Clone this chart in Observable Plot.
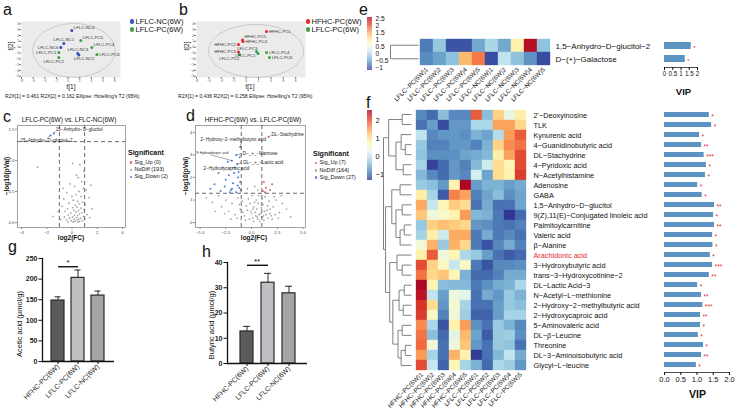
<!DOCTYPE html>
<html><head><meta charset="utf-8">
<script src="https://cdn.jsdelivr.net/npm/d3@7"></script>
<script src="https://cdn.jsdelivr.net/npm/@observablehq/plot@0.6"></script>
<style>
body{margin:0;background:#fff;}
#root{position:relative;width:740px;height:414px;overflow:hidden;background:#fff;font-family:'Liberation Sans',Arial,Helvetica,sans-serif;color:#111;}
.t{position:absolute;white-space:nowrap;line-height:1;}
.d{position:absolute;border-radius:50%;}
</style></head><body><div id="root"></div>
<script>
// ================= DATA =================
// a: PCA LFLC-NC vs LFLC-PC
const pcaA_names = ["LFLC-NC4","LFLC-NC1","LFLC-NC6","LFLC-PC5","LFLC-PC4","LFLC-NC3","LFLC-NC2","LFLC-PC6","LFLC-PC1","LFLC-PC2"];
const pcaA_t1 = [0.64,-0.73,-1.25,2.19,4.08,1.67,1.85,4.94,-1.59,-1.59];
const pcaA_t2 = [2.85,0.63,-0.05,1.15,-0.05,-1.08,-1.33,-1.25,-0.9,-1.76];
const pcaA_group = ["LFLC-NC(6W)","LFLC-NC(6W)","LFLC-NC(6W)","LFLC-PC(6W)","LFLC-PC(6W)","LFLC-NC(6W)","LFLC-NC(6W)","LFLC-PC(6W)","LFLC-PC(6W)","LFLC-PC(6W)"];
const pcaA_ellipse = {cx: 0.99, cy: -0.56, rx: 7.05, ry: 4.6};
const pcaA_caption = "R2X[1] = 0.461 R2X[2] = 0.162 Ellipse: Hotelling's T2 (95%)";
// b: PCA HFHC-PC vs LFLC-PC
const pcaB_names = ["HFHC-PC1","HFHC-PC5","HFHC-PC4","HFHC-PC2","HFHC-PC3","LFLC-PC2","LFLC-PC3","LFLC-PC1","LFLC-PC4","LFLC-PC6"];
const pcaB_t1 = [3.29,-0.58,-0.5,-1.23,-1.23,-1.06,1.68,1.92,3.29,3.77];
const pcaB_t2 = [2.68,1.23,0.97,0.46,-0.82,-1.25,-0.74,-1.08,-0.9,-1.76];
const pcaB_group = ["HFHC-PC(6W)","HFHC-PC(6W)","HFHC-PC(6W)","HFHC-PC(6W)","HFHC-PC(6W)","LFLC-PC(6W)","LFLC-PC(6W)","LFLC-PC(6W)","LFLC-PC(6W)","LFLC-PC(6W)"];
const pcaB_ellipse = {cx: 1.6, cy: -0.65, rx: 7.66, ry: 4.53};
const pcaB_caption = "R2X[1] = 0.436 R2X[2] = 0.258 Ellipse: Hotelling's T2 (95%)";

// c: volcano LFLC-PC vs LFLC-NC  [log2FC, -log10 p]
const volC_nodiff = [[-2.74,0.89],[0.05,0.95],[0.62,0.93],[0.95,0.82],[0.35,0.76],[0.48,0.72],[0.78,0.66],[-0.15,0.62],[0.2,0.58],[0.9,0.55],[1.12,0.52],[0.55,0.5],[-0.42,0.48],[0.3,0.45],[0.72,0.42],[1.35,0.4],[-0.65,0.38],[0.1,0.36],[0.45,0.34],[0.85,0.33],[-0.25,0.31],[0.6,0.3],[1.05,0.29],[0.25,0.28],[-0.8,0.26],[0.4,0.25],[0.05,0.24],[0.7,0.23],[-0.35,0.22],[0.95,0.21],[0.15,0.2],[0.5,0.19],[-0.55,0.18],[0.3,0.17],[0.8,0.16],[-0.1,0.15],[0.6,0.14],[1.2,0.13],[0.2,0.12],[-0.3,0.12],[0.45,0.11],[0.9,0.1],[-0.6,0.09],[0.05,0.09],[0.35,0.08],[0.7,0.07],[-0.2,0.07],[0.55,0.06],[1.0,0.05],[0.15,0.05],[-0.45,0.04],[0.4,0.04],[0.8,0.03],[-0.05,0.03],[0.25,0.02],[0.6,0.02],[-0.3,0.01],[0.1,0.01],[0.5,0.01],[-1.5,0.1],[-1.1,0.18],[1.6,0.22],[-0.9,0.05],[1.4,0.08],[-0.7,0.55],[0.0,0.42],[1.5,0.6]];
const volC_down = [[-1.45,1.43],[-1.7,1.40]];
const volC_up = [];
const volC_labels = [
  {t:"15−Anhydro−D−glucitol", px:-1.45, py:1.43, sx:-1.3, sy:1.47, tx:-1.28, ty:1.49},
  {t:"15−Anhydro−D−glucitol−2", px:-1.7, py:1.40, sx:-2.0, sy:1.35, tx:-4.09, ty:1.32}
];
// d: volcano HFHC-PC vs LFLC-PC
const volD_nodiff = [[0.3,1.6],[0.6,1.45],[-0.4,1.5],[-4.4,1.1],[-3.8,0.9],[-3.2,1.2],[-2.9,0.7],[-2.5,1.0],[-2.2,0.5],[-1.9,0.85],[-1.6,0.35],[-1.3,1.1],[-1.1,0.6],[-0.9,0.95],[-0.7,0.3],[-0.5,0.75],[-0.3,1.05],[-0.1,0.5],[0.1,0.2],[0.3,0.9],[0.5,0.6],[0.7,1.2],[0.9,0.4],[1.1,0.8],[1.3,1.15],[1.5,0.55],[1.7,0.95],[1.9,0.3],[2.1,0.7],[2.4,1.0],[2.7,0.45],[3.0,0.85],[3.4,0.6],[3.8,0.25],[-0.6,0.1],[-0.2,0.15],[0.2,0.05],[0.4,0.3],[0.6,0.15],[0.8,0.05],[1.0,0.25],[1.2,0.1],[1.4,0.35],[1.6,0.2],[1.8,0.6],[2.0,0.15],[2.3,0.35],[0.0,0.4],[-0.4,0.55],[0.2,0.7],[0.45,1.0],[0.95,0.65],[1.25,0.5],[1.55,0.75],[2.2,1.15],[2.6,0.2],[-1.4,0.2],[-2.0,0.15],[-2.6,0.4],[-3.5,0.5],[0.05,1.2],[0.65,0.85],[1.05,1.05],[-0.85,0.45],[-1.2,0.8],[0.35,0.45],[0.75,0.35],[1.15,0.3],[0.55,0.25],[0.15,0.6],[-0.15,0.85],[1.75,0.4],[2.9,1.2]];
const volD_down = [[-1.1,3.35],[-1.9,2.75],[-1.5,3.0],[-1.4,2.6],[-1.6,2.45],[-3.2,2.2],[-2.8,2.45],[-2.5,1.9],[-2.2,2.1],[-1.8,1.75],[-1.3,2.0],[-1.2,1.55],[-2.0,1.45],[-2.6,1.6],[-3.0,1.4],[-1.5,1.35],[-1.1,1.8],[-1.7,2.2],[-2.3,2.7],[-1.25,2.25],[-1.05,1.45],[-3.6,1.7],[-2.1,1.35],[-1.35,1.65],[-1.9,1.5],[-4.0,1.5],[-1.15,2.9]];
const volD_up = [[1.65,3.8],[1.2,1.8],[1.4,1.55],[1.8,1.45],[1.3,1.35],[2.0,1.7],[1.1,1.4]];
const volD_labels = [
  {t:"DL−Stachydrine", px:1.65, py:3.8, sx:1.9, sy:3.88, tx:1.95, ty:3.92, f:4.5},
  {t:"2−Hydroxy−2−methylbutyric acid", px:-1.1, py:3.35, sx:-1.0, sy:3.6, tx:-4.95, ty:3.69, f:4.5},
  {t:"3−Hydroxybutyric acid", px:-1.9, py:2.75, sx:-3.9, sy:3.0, tx:-5.4, ty:3.07, f:3.3},
  {t:"D−_+_−Mannose", px:-1.5, py:3.0, sx:-0.9, sy:3.05, tx:-0.85, ty:3.07, f:4.5},
  {t:"DL−_+_−Lactic acid", px:-1.4, py:2.6, sx:-0.9, sy:2.65, tx:-0.8, ty:2.67, f:4.5},
  {t:"2−Hydroxycaproic acid", px:-1.6, py:2.45, sx:-1.9, sy:2.42, tx:-4.66, ty:2.4, f:4.5}
];

// e: heatmap (2 metabolites)
const heatE_rows = ["1,5−Anhydro−D−glucitol−2","D−(+)−Galactose"];
const heatE_cols = ["LFLC−PC(6W)1","LFLC−PC(6W)2","LFLC−PC(6W)3","LFLC−PC(6W)4","LFLC−PC(6W)5","LFLC−NC(6W)1","LFLC−NC(6W)2","LFLC−NC(6W)3","LFLC−NC(6W)4","LFLC−NC(6W)5"];
const heatE_vals = [
  [-0.75,-0.2,-1.0,-1.0,-0.45,-0.05,-0.45,0.85,2.45,-0.25],
  [-0.65,-0.5,-0.25,1.35,1.75,-1.05,0.1,-0.25,-0.6,-1.05]
];
const heatE_legendTicks = [-1,-0.5,0,0.5,1,1.5,2,2.5];
const vipE = [1.62,1.26];
const vipE_stars = ["*","*"];

// f: heatmap (26 metabolites)
const heatF_rows = ["2'−Deoxyinosine","TLK","Kynurenic acid","4−Guanidinobutyric acid","DL−Stachydrine","4−Pyridoxic acid","N−Acetylhistamine","Adenosine","GABA","1,5−Anhydro−D−glucitol","9(Z),11(E)−Conjugated linoleic acid","Palmitoylcarnitine","Valeric acid","β−Alanine","Arachidonic acid","3−Hydroxybutyric acid","trans−3−Hydroxycotinine−2","DL−Lactic Acid−3","N−Acetyl−L−methionine","2−Hydroxy−2−methylbutyric acid","2−Hydroxycaproic acid","5−Aminovaleric acid","DL−β−Leucine","Threonine","DL−3−Aminoisobutyric acid","Glycyl−L−leucine"];
const heatF_highlight = ["Arachidonic acid"];
const heatF_cols = ["HFHC−PC(6W)1","HFHC−PC(6W)2","HFHC−PC(6W)3","HFHC−PC(6W)4","HFHC−PC(6W)5","LFLC−PC(6W)1","LFLC−PC(6W)2","LFLC−PC(6W)3","LFLC−PC(6W)4","LFLC−PC(6W)5"];
const heatF_vals = [
  [-0.8,-1.0,-0.4,-0.8,-0.8,1.9,-0.4,1.1,0.35,0.8],
  [-0.95,-0.65,-1.2,-0.7,-0.7,-0.15,-0.15,1.45,1.45,1.05],
  [0.0,-0.8,-0.7,-0.7,-0.75,-0.5,-0.6,-0.1,1.5,1.9],
  [-0.3,-0.85,-0.85,-0.7,-0.7,-0.85,-0.5,1.1,1.6,1.75],
  [-0.35,-0.75,-0.75,-0.75,-0.6,-0.55,-0.45,0.8,1.45,2.0],
  [-0.2,-1.25,-1.0,-0.7,-0.85,-0.45,0.1,1.0,0.7,2.0],
  [-0.45,-0.8,-1.0,-0.7,-0.8,0.15,-0.6,1.0,0.75,2.1],
  [-0.3,-0.4,-0.7,0.75,2.5,-0.65,-0.5,-0.5,-0.65,-0.55],
  [0.8,-0.2,-1.1,1.65,1.45,-0.85,-0.6,-0.4,-0.75,-0.6],
  [1.4,0.05,0.7,1.15,1.0,-0.95,-0.55,-0.95,-0.95,-0.6],
  [1.2,0.4,0.55,0.75,1.5,-0.45,-0.5,-0.9,-1.35,-1.0],
  [-0.3,1.1,1.25,1.15,1.05,-0.7,-0.75,-0.9,-0.95,-0.85],
  [-0.2,0.8,0.1,1.4,1.4,-0.9,-0.55,-0.9,-0.8,-0.95],
  [0.45,1.35,-0.3,1.35,1.05,-0.9,-1.15,-0.8,-0.55,-0.85],
  [0.8,1.9,0.4,0.7,-0.15,-0.3,-0.65,-0.95,-1.1,-1.0],
  [2.0,1.1,0.6,0.05,0.6,-0.9,-1.15,-0.8,-0.8,-0.75],
  [1.75,1.05,1.2,0.7,-0.5,-1.0,-1.0,-0.85,-0.55,-0.55],
  [2.5,0.75,-0.4,-0.45,-0.45,-0.9,-0.75,-0.55,-0.5,-0.15],
  [2.4,0.0,-0.65,0.4,0.3,-0.95,-0.55,-0.7,-0.3,-0.5],
  [2.15,1.0,-0.7,0.5,-0.2,-0.95,-0.95,-0.65,-0.3,-0.4],
  [2.1,0.6,-0.85,0.45,-0.25,-1.05,-1.05,-0.65,-0.2,-0.2],
  [1.6,-0.15,-1.15,0.75,1.5,-0.75,-0.95,-0.3,-0.5,-0.8],
  [1.75,-0.4,-1.0,0.3,1.3,-0.6,-1.1,-0.3,-0.25,-0.75],
  [1.8,0.45,-0.95,0.4,1.2,-0.7,-0.95,-0.3,-0.35,-0.95],
  [1.5,-0.2,-0.95,1.35,0.75,-1.3,-0.95,-0.45,0.0,-0.55],
  [2.0,0.05,-1.05,0.7,-0.2,-0.5,-1.0,-0.15,-0.25,-0.7]
];
const heatF_legendTicks = [-1,0,1,2];
const vipF = [1.38,1.45,1.08,1.14,1.22,1.29,1.26,1.02,1.16,1.54,1.51,1.54,1.48,1.49,1.41,1.48,1.38,1.02,1.14,1.18,1.11,1.11,1.04,1.20,1.14,0.98];
const vipF_stars = ["*","*","*","**","***","*","*","*","*","**","*","**","*","*","*","***","**","*","**","***","**","*","*","*","**","*"];
// dendrograms (merge heights, leaves = row indices)
const N = (h, a, b) => ({h, c: [a, b]});
const treeE = N(27, 0, 1);
const treeF = N(27,
  N(22, N(9, 0, 1), N(15, N(10, 2, N(6, 3, 4)), N(8, 5, 6))),
  N(25,
    N(19, N(11, 7, 8), N(15, N(9, 9, 10), N(11, N(7, 11, 12), 13))),
    N(21, N(14, 14, N(9, 15, 16)),
          N(18, N(12, N(7, 17, 18), N(8, 19, 20)), N(13, N(9, 21, 22), N(10, N(6, 23, 24), 25))))));

// g, h: SCFA bars
const barGroups = ["HFHC-PC(6W)","LFLC-PC(6W)","LFLC-NC(6W)"];
const acetic = [148, 203, 160];
const aceticErr = [9, 19, 11];
const butyric = [12.7, 32.0, 27.8];
const butyricErr = [2.0, 3.7, 2.8];
const barFills = ["#5b5b5b","#bebec3","#a5a5a8"];
const sigG = {a:"HFHC-PC(6W)", b:"LFLC-PC(6W)", y:230, s:"*"};
const sigH = {a:"HFHC-PC(6W)", b:"LFLC-PC(6W)", y:38.9, s:"**"};

// ================= HELPERS =================
const FONT = "'Liberation Sans', Arial, Helvetica, sans-serif";
const root = document.getElementById("root");
const baseStyle = {fontFamily: FONT, background: "transparent", overflow: "visible"};
const mfmt = d => (d < 0 ? "−" : "") + Math.abs(d);
function put(svg, left, top) {
  svg.style.position = "absolute"; svg.style.left = left + "px"; svg.style.top = top + "px";
  svg.style.background = "transparent"; svg.style.overflow = "visible"; svg.style.maxWidth = "none";
  root.appendChild(svg);
}
function txt(s, x, yc, size, o = {}) {
  const d = document.createElement("div");
  d.className = "t"; d.textContent = s; d.style.fontSize = size + "px";
  if (o.rot) {
    d.style.left = x + "px"; d.style.top = yc + "px";
    d.style.transform = `translate(-50%,-50%) rotate(${o.rot}deg)`;
  } else {
    d.style.left = x + "px"; d.style.top = (yc - 0.5 * size) + "px";
    if (o.anchor === "middle") d.style.transform = "translateX(-50%)";
  }
  if (o.bold) d.style.fontWeight = "bold";
  if (o.color) d.style.color = o.color;
  root.appendChild(d);
}
function dot(x, y, r, color) {
  const d = document.createElement("div");
  d.className = "d"; d.style.left = (x - r) + "px"; d.style.top = (y - r) + "px";
  d.style.width = d.style.height = 2 * r + "px"; d.style.background = color;
  root.appendChild(d);
}
const sideCfg = {
  r: {textAnchor: "start", dx: 2.5, dy: 0},
  tr: {textAnchor: "start", dx: 2, dy: -3},
  t: {textAnchor: "middle", dx: 0, dy: -3.6},
  tl: {textAnchor: "end", dx: 1, dy: -3},
  l: {textAnchor: "end", dx: -2.5, dy: 0},
  lb: {textAnchor: "end", dx: -2.5, dy: 2},
  bl: {textAnchor: "end", dx: 0, dy: 3.8},
  bl5: {textAnchor: "end", dx: 5, dy: 4},
  br: {textAnchor: "start", dx: -5, dy: 3.8}
};
function pca(names, t1, t2, group, sides, colors, xdom, ell, o) {
  const data = names.map((n, i) => ({n, x: t1[i], y: t2[i], c: colors[group[i]], s: sides[i]}));
  const ellPts = d3.range(0, 361, 3).map(a => ({x: ell.cx + ell.rx * Math.cos(a * Math.PI / 180), y: ell.cy + ell.ry * Math.sin(a * Math.PI / 180)}));
  const labels = Object.keys(sideCfg).map(k => Plot.text(data.filter(d => d.s === k), {x: "x", y: "y", text: "n", fontSize: 4.3, fill: "#333", ...sideCfg[k]}));
  return Plot.plot({
    width: o.w, height: 85, marginLeft: 21, marginRight: o.mr, marginTop: 11, marginBottom: 18,
    style: baseStyle, x: {domain: xdom}, y: {domain: [-5.2, 4.4]}, color: {type: "identity"},
    marks: [
      Plot.frame({fill: "#ebebeb", stroke: "none"}),
      Plot.line(ellPts, {x: "x", y: "y", stroke: "#c4c4c4", strokeWidth: 0.9}),
      Plot.axisX({ticks: d3.range(-8, 9, 2), tickSize: 2, tickPadding: 0.5, fontSize: 3.2, label: null, stroke: "#777", fill: "#555"}),
      Plot.axisY({ticks: d3.range(-5, 5), tickSize: 2, tickPadding: 0.5, fontSize: 3.2, label: null, stroke: "#777", fill: "#555"}),
      Plot.dot(data, {x: "x", y: "y", fill: "c", r: 1.5}),
      ...labels
    ]
  });
}
function volcano(o) {
  const P = a => a.map(d => ({x: d[0], y: d[1]}));
  return Plot.plot({
    width: o.w, height: o.h, marginLeft: o.ml, marginRight: o.mr, marginTop: o.mt, marginBottom: o.mb,
    style: baseStyle, x: {domain: o.xdom}, y: {domain: o.ydom},
    marks: [
      Plot.frame({stroke: "#8d8d8d", strokeWidth: 0.8}),
      Plot.axisX({ticks: o.xticks, tickFormat: o.xfmt, tickSize: 2, tickPadding: 1, fontSize: 4.3, label: null, stroke: "#8d8d8d", fill: "#444"}),
      Plot.axisY({ticks: o.yticks, tickFormat: o.yfmt, tickSize: 2, tickPadding: 1, fontSize: 4.3, label: null, stroke: "#8d8d8d", fill: "#444"}),
      Plot.dot(P(o.nodiff), {x: "x", y: "y", r: 0.9, fill: "#a6a6a6"}),
      Plot.dot(P(o.down), {x: "x", y: "y", r: 1.0, fill: "#4a7fd4"}),
      Plot.dot(P(o.up), {x: "x", y: "y", r: 1.0, fill: "#e85a6a"}),
      Plot.ruleX([-1, 1], {stroke: "#444", strokeWidth: 0.8, strokeDasharray: "4,3"}),
      Plot.ruleY([-Math.log10(0.05)], {stroke: "#444", strokeWidth: 0.8, strokeDasharray: "4,3"}),
      Plot.link(o.labels, {x1: "px", y1: "py", x2: "sx", y2: "sy", stroke: "#333", strokeWidth: 0.45}),
      ...[3.3, 4.5].map(fs => Plot.text(o.labels.filter(d => (d.f || 4.5) === fs), {x: "tx", y: "ty", text: "t", textAnchor: "start", fontSize: fs, fill: "#222"}))
    ]
  });
}
const colorOpts = dom => ({type: "linear", scheme: "RdYlBu", reverse: true, domain: dom});
function heatmap(rows, cols, vals, dom, red, o) {
  const data = rows.flatMap((r, i) => cols.map((c, j) => ({r, c, v: vals[i][j]})));
  return Plot.plot({
    width: o.w, height: o.h, marginLeft: o.ml, marginRight: o.mr, marginTop: o.mt, marginBottom: o.mb,
    style: baseStyle, x: {domain: cols, padding: 0}, y: {domain: rows, padding: 0, axis: null}, color: colorOpts(dom),
    marks: [
      Plot.cell(data, {x: "c", y: "r", fill: "v", stroke: "v", strokeWidth: 0.35}),
      Plot.axisX({anchor: "bottom", tickRotate: -45, tickSize: 0, tickPadding: 3, fontSize: o.colFont, label: null, fill: "#111"}),
      Plot.text(rows.filter(r => !red.includes(r)), {y: d => d, text: d => d, frameAnchor: "right", textAnchor: "start", dx: 3, fontSize: o.rowFont, fill: "#111"}),
      Plot.text(red, {y: d => d, text: d => d, frameAnchor: "right", textAnchor: "start", dx: 3, fontSize: o.rowFont, fill: "#e8262d"})
    ]
  });
}
function colorbar(dom, ticks, o) {
  const n = 120, step = (dom[1] - dom[0]) / n;
  const stops = d3.range(n).map(i => dom[0] + i * step);
  return Plot.plot({
    width: o.w, height: o.h, marginLeft: 0, marginRight: o.w - 5, marginTop: o.mt, marginBottom: o.mb,
    style: baseStyle, y: {domain: dom}, color: colorOpts(dom),
    marks: [
      Plot.rect(stops, {y1: d => d, y2: d => Math.min(dom[1], d + step * 1.05), fill: d => d + step / 2}),
      Plot.axisY({anchor: "right", ticks, tickSize: 0, tickPadding: 3, tickFormat: mfmt, fontSize: o.font, label: null, fill: "#111"})
    ]
  });
}
function dendro(tree, n, hmax, o) {
  const segs = [];
  (function lay(node) {
    if (typeof node === "number") return {y: node, h: 0};
    const k = node.c.map(lay);
    segs.push({x1: node.h, y1: k[0].y, x2: node.h, y2: k[1].y});
    for (const c of k) segs.push({x1: node.h, y1: c.y, x2: c.h, y2: c.y});
    return {y: (k[0].y + k[1].y) / 2, h: node.h};
  })(tree);
  return Plot.plot({
    width: o.w, height: o.h, marginLeft: 1, marginRight: 1, marginTop: o.mt, marginBottom: o.mb,
    style: baseStyle, x: {domain: [hmax, 0], axis: null}, y: {domain: [n - 0.5, -0.5], axis: null},
    marks: [Plot.link(segs, {x1: "x1", y1: "y1", x2: "x2", y2: "y2", stroke: "#808080", strokeWidth: 1})]
  });
}
function vipPlot(names, vals, stars, o) {
  const data = names.map((n, i) => ({n, v: vals[i], s: stars[i]}));
  return Plot.plot({
    width: o.w, height: o.h, marginLeft: o.ml, marginRight: o.mr, marginTop: o.mt, marginBottom: o.mb,
    style: baseStyle, x: {domain: [0, 2]},
    y: {domain: names, paddingInner: o.pad, paddingOuter: o.pad / 2, axis: null, insetBottom: o.ib},
    marks: [
      Plot.barX(data, {x: "v", y: "n", fill: "#5c93c2"}),
      Plot.text(data, {x: "v", y: "n", text: "s", dx: 2, dy: 1.6, textAnchor: "start", fill: "#e8262d", fontSize: o.starFont}),
      Plot.frame({anchor: "bottom", stroke: "#222", strokeWidth: 0.8}),
      Plot.axisX({anchor: "bottom", ticks: [0, 0.5, 1, 1.5, 2], tickFormat: o.fmt, tickSize: 3, tickPadding: 1, fontSize: o.font, label: null, fill: "#111"})
    ]
  });
}
function barPanel(vals, errs, sig, o) {
  const data = barGroups.map((c, i) => ({c, v: vals[i], e: errs[i], f: barFills[i]}));
  return Plot.plot({
    width: o.w, height: o.h, marginLeft: o.ml, marginRight: o.mr, marginTop: o.mt, marginBottom: o.mb,
    style: baseStyle, x: {domain: barGroups, paddingInner: o.pi, paddingOuter: o.po},
    y: {domain: [0, o.ymax]}, color: {type: "identity"},
    marks: [
      Plot.ruleX(data, {x: "c", y1: "v", y2: d => d.v + d.e, stroke: "#2a2a2a", strokeWidth: 1}),
      Plot.tickY(data, {x: "c", y: d => d.v + d.e, stroke: "#2a2a2a", strokeWidth: 1, insetLeft: o.cap, insetRight: o.cap}),
      Plot.barY(data, {x: "c", y: "v", fill: "f", stroke: "#2a2a2a", strokeWidth: 1.2}),
      Plot.ruleY([0], {stroke: "#111", strokeWidth: 1.3}),
      Plot.frame({anchor: "left", stroke: "#111", strokeWidth: 1.3}),
      Plot.link([sig], {x1: "a", x2: "b", y1: "y", y2: "y", stroke: "#111", strokeWidth: 1.4}),
      Plot.text([sig], {x: "a", y: "y", text: "s", dx: o.sdx, dy: -4, fontSize: 8, fill: "#111"}),
      Plot.axisY({ticks: o.ticks, tickSize: 3.5, tickPadding: 1.5, fontSize: 7, fontWeight: "bold", label: null, fill: "#222"}),
      Plot.axisX({tickRotate: -45, tickSize: 3, tickPadding: 1, fontSize: 7, label: null, fill: "#222"})
    ]
  });
}

// ================= PANELS =================
const colA = {"LFLC-NC(6W)": "#3a4cc4", "LFLC-PC(6W)": "#3aa14a"};
const colB = {"HFHC-PC(6W)": "#ec2227", "LFLC-PC(6W)": "#3aa14a"};
put(pca(pcaA_names, pcaA_t1, pcaA_t2, pcaA_group, ["tr","t","l","tr","tr","t","br","r","l","bl5"], colA, [-8, 9], pcaA_ellipse, {w: 130, mr: 10}), 0, 10);
put(pca(pcaB_names, pcaB_t1, pcaB_t2, pcaB_group, ["r","tr","r","l","l","bl","tl","lb","r","r"], colB, [-8, 9.58], pcaB_ellipse, {w: 140, mr: 10}), 175, 10);

put(volcano({w: 130, h: 132, ml: 17, mr: 5, mt: 13, mb: 17, xdom: [-4.32, 4.24], ydom: [-0.08, 1.56],
  xticks: [-4, -2, 0, 2, 4], xfmt: mfmt, yticks: [0, 0.5, 1, 1.5], yfmt: d3.format(".1f"),
  nodiff: volC_nodiff, down: volC_down, up: volC_up, labels: volC_labels}), 0, 112);
put(volcano({w: 130, h: 132, ml: 17, mr: 3, mt: 13, mb: 17, xdom: [-5.44, 5.24], ydom: [-0.22, 4.31],
  xticks: [-5, -2.5, 0, 2.5, 5], xfmt: d => mfmt(+d.toFixed(1)).replace(/^(−?\d+)$/, "$1.0"), yticks: [0, 1, 2, 3, 4], yfmt: d => String(d),
  nodiff: volD_nodiff, down: volD_down, up: volD_up, labels: volD_labels}), 178, 112);

const domE = [-1.18, 2.57], domF = [-1.33, 2.56];
put(colorbar(domE, heatE_legendTicks, {w: 30, h: 70, mt: 7, mb: 10, font: 6.6}), 367, 10);
put(colorbar(domF, heatF_legendTicks, {w: 30, h: 80, mt: 10, mb: 0, font: 7.5}), 367, 100);
put(dendro(treeE, 2, 27, {w: 30, h: 50, mt: 8, mb: 15}), 389, 30);
put(dendro(treeF, 26, 27, {w: 30, h: 314, mt: 9, mb: 44}), 382, 100);
put(heatmap(heatE_rows, heatE_cols, heatE_vals, domE, [], {w: 310, h: 80, ml: 58, mr: 118, mt: 8, mb: 45, colFont: 6.3, rowFont: 8}), 360, 30);
put(heatmap(heatF_rows, heatF_cols, heatF_vals, domF, heatF_highlight, {w: 310, h: 314, ml: 52, mr: 140, mt: 9, mb: 44, colFont: 6.3, rowFont: 7.3}), 360, 100);
put(vipPlot(heatE_rows, vipE, vipE_stars, {w: 70, h: 50, ml: 24, mr: 13, mt: 8, mb: 13, pad: 0.5, ib: 2, fmt: d => String(d), font: 6.3, starFont: 6}), 640, 30);
put(vipPlot(heatF_rows, vipF, vipF_stars, {w: 100, h: 314, ml: 24, mr: 11, mt: 9, mb: 42, pad: 0.48, ib: 2, fmt: d3.format(".1f"), font: 7.5, starFont: 6.5}), 640, 100);

put(barPanel(acetic, aceticErr, sigG, {w: 120, h: 170, ml: 42, mr: 6, mt: 18, mb: 49, pi: 0.33, po: 0.38, ymax: 250, ticks: d3.range(0, 251, 50), cap: 3.5, sdx: 10}), 0, 240);
put(barPanel(butyric, butyricErr, sigH, {w: 125, h: 170, ml: 42, mr: 3, mt: 22, mb: 47, pi: 0.4, po: 0.6, ymax: 40, ticks: d3.range(0, 41, 10), cap: 3, sdx: 10}), 185, 240);

// ================= TEXT =================
const L = 16;
txt("a", 3, 9.5, L); txt("b", 179, 9.5, L); txt("c", 3, 116.5, L); txt("d", 186, 116, L);
txt("e", 359, 9.5, L); txt("f", 366, 103, L); txt("g", 8, 246.5, L); txt("h", 202, 251.5, L);
// a/b legends & captions
dot(132, 21.5, 2.2, colA["LFLC-NC(6W)"]); txt("LFLC-NC(6W)", 135.5, 21.5, 7.5);
dot(132, 29.5, 2.2, colA["LFLC-PC(6W)"]); txt("LFLC-PC(6W)", 135.5, 29.5, 7.5);
dot(308, 21.5, 2.2, colB["HFHC-PC(6W)"]); txt("HFHC-PC(6W)", 311.5, 21.5, 7.5);
dot(308, 29.5, 2.2, colB["LFLC-PC(6W)"]); txt("LFLC-PC(6W)", 311.5, 29.5, 7.5);
txt("t[1]", 71, 87, 6.5, {anchor: "middle"}); txt("t[1]", 250, 87, 6.5, {anchor: "middle"});
txt("t[2]", 10.5, 46, 6.5, {rot: -90}); txt("t[2]", 187, 46, 6.5, {rot: -90});
txt(pcaA_caption, 5, 97, 5.1); txt(pcaB_caption, 178, 97, 5.1);
// c/d titles, axes & legends
txt("LFLC-PC(6W) vs. LFLC-NC(6W)", 69, 120, 6.5, {anchor: "middle"});
txt("HFHC-PC(6W) vs. LFLC-PC(6W)", 253, 120, 6.5, {anchor: "middle"});
txt("−log10(pVal)", 6.5, 176, 6.5, {rot: -90, bold: true}); txt("−log10(pVal)", 186, 176, 6.5, {rot: -90, bold: true});
txt("log2(FC)", 71, 238.5, 6.5, {anchor: "middle", bold: true}); txt("log2(FC)", 254, 238.5, 6.5, {anchor: "middle", bold: true});
function sigLegend(x, y, counts) {
  txt("Significant", x, y, 7, {bold: true});
  const cols = ["#e85a6a", "#a6a6a6", "#4a7fd4"], labs = ["Sig_Up", "NoDiff", "Sig_Down"];
  labs.forEach((l, i) => { const yy = y + 10 + i * 7.3; dot(x + 3, yy, 1.3, cols[i]); txt(`${l} (${counts[i]})`, x + 6.5, yy, 5.5); });
}
sigLegend(128, 152.5, [0, 193, 2]);
sigLegend(313, 153, [7, 164, 27]);
// VIP titles
txt("VIP", 683.5, 92, 9.5, {anchor: "middle", bold: true});
txt("VIP", 697.5, 394, 10.5, {anchor: "middle", bold: true});
// g/h axis titles
txt("Acetic acid (μmol/g)", 20, 324, 7.5, {rot: -90});
txt("Butyric acid (μmol/g)", 211.5, 325, 7.5, {rot: -90});
</script></body></html>
